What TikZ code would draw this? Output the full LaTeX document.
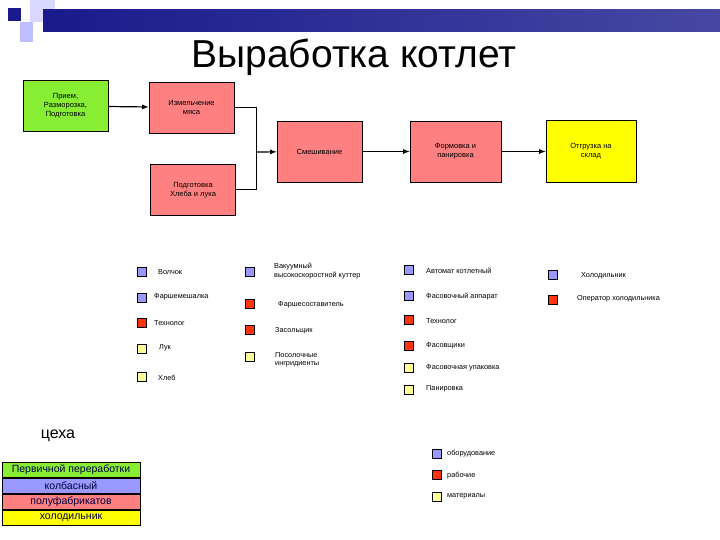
\documentclass[tikz,border=0pt]{standalone}
\usepackage{fontspec}
\setmainfont{Liberation Sans}
\begin{document}
\begin{tikzpicture}[x=1pt,y=-1pt,
  box/.style={draw=black,line width=0.8pt,minimum width=85pt,minimum height=51pt,align=center,font=\fontsize{7.5}{9}\selectfont,inner sep=2pt},
  sq/.style={draw=black,line width=0.5pt,minimum size=9pt,inner sep=0pt},
  eq/.style={sq,fill=eqc},
  wk/.style={sq,fill=wkc},
  mt/.style={sq,fill=mtc},
  lab/.style={anchor=west,font=\fontsize{7.3}{8.3}\selectfont,align=left,inner sep=1pt},
  arr/.style={line width=1.2pt,-latex},
  row/.style={draw=black,line width=0.8pt,minimum width=138pt,minimum height=15pt,inner sep=0pt,font=\fontsize{10.5}{11}\selectfont,text=black!75!blue}]
\definecolor{eqc}{HTML}{9999FF}
\definecolor{wkc}{HTML}{FF3311}
\definecolor{mtc}{HTML}{FFFF99}
\definecolor{grn}{HTML}{88EE33}
\definecolor{sal}{HTML}{FF8080}
\definecolor{yel}{HTML}{FFFF00}
\definecolor{navy}{HTML}{1A1A8C}
\useasboundingbox (0,0) rectangle (720,540);
% decoration
\fill[blue!15] (30,0) rectangle (55,22);
\fill[blue!25] (20,22) rectangle (33,42);
\fill[navy] (8,8) rectangle (21,21);
\shade[left color=navy,right color=navy!80] (43,10) rectangle (720,32);
\node (title) at (354,57) {\fontsize{39}{40}\selectfont Выработка котлет};
% flow
\node[box,fill=grn] (a) at (65.5,106) {Прием,\\Разморозка,\\Подготовка};
\node[box,fill=sal] (b) at (191.5,107.5) {Измельчение\\мяса};
\node[box,fill=sal] (c) at (193,190) {Подготовка\\Хлеба и лука};
\node[box,fill=sal,minimum height=61pt] (d) at (319.5,151.5) {Смешивание};
\node[box,fill=sal,minimum height=61pt,minimum width=91pt] (e) at (455.5,151.5) {Формовка и\\панировка};
\node[box,fill=yel,minimum height=62pt,minimum width=90pt] (f) at (591,151.5) {Отгрузка на\\склад};
\coordinate (j) at (256,152);
\draw[arr] (a) -- (b);
\draw[line width=1pt] (b.east) -| (j);
\draw[line width=1pt] (c.east) -| (j);
\draw[arr] (j) -- (d);
\draw[arr] (d) -- (e);
\draw[arr] (e) -- (f);
% column 1
\node[eq] (s1) at (142,272) {}; \node[lab] (t1) at (157,272) {Волчок};
\node[eq] (s2) at (142,298) {}; \node[lab] (t2) at (153,297) {Фаршемешалка};
\node[wk] (s3) at (142,323) {}; \node[lab] (t3) at (153,323) {Технолог};
\node[mt] (s4) at (142,349) {}; \node[lab] (t4) at (158,348) {Лук};
\node[mt] (s5) at (142,377) {}; \node[lab] (t5) at (157,378) {Хлеб};
% column 2
\node[eq] (u1) at (250,272) {}; \node[lab] (v1) at (273,271) {Вакуумный\\высокоскоростной куттер};
\node[wk] (u2) at (250,304) {}; \node[lab] (v2) at (277,305) {Фаршесоставитель};
\node[wk] (u3) at (250,330) {}; \node[lab] (v3) at (274,331) {Засольщик};
\node[mt] (u4) at (250,357) {}; \node[lab] (v4) at (274,360) {Посолочные\\ингридиенты};
% column 3
\node[eq] (w1) at (409,270) {}; \node[lab] (x1) at (425,271) {Автомат котлетный};
\node[eq] (w2) at (409,296) {}; \node[lab] (x2) at (425,297) {Фасовочный аппарат};
\node[wk] (w3) at (409,320) {}; \node[lab] (x3) at (425,321) {Технолог};
\node[wk] (w4) at (409,346) {}; \node[lab] (x4) at (425,346) {Фасовщики};
\node[mt] (w5) at (409,368) {}; \node[lab] (x5) at (425,368) {Фасовочная упаковка};
\node[mt] (w6) at (409,390) {}; \node[lab] (x6) at (425,389) {Панировка};
% column 4
\node[eq] (y1) at (553,275) {}; \node[lab] (z1) at (580,276) {Холодильник};
\node[wk] (y2) at (553,300) {}; \node[lab] (z2) at (576,299) {Оператор холодильника};
% cexa
\node (ceh) at (58,436) {\fontsize{16}{17}\selectfont цеха};
\node[row,fill=grn] (r1) at (71,470) {Первичной переработки};
\node[row,fill=eqc,anchor=north] (r2) at (r1.south) {колбасный};
\node[row,fill=sal,anchor=north] (r3) at (r2.south) {полуфабрикатов};
\node[row,fill=yel,anchor=north] (r4) at (r3.south) {холодильник};
% legend
\node[eq] (l1) at (437,454) {}; \node[lab] (m1) at (446,454) {оборудование};
\node[wk] (l2) at (437,475) {}; \node[lab] (m2) at (446,476) {рабочие};
\node[mt] (l3) at (437,497) {}; \node[lab] (m3) at (446,496) {материалы};
\end{tikzpicture}
\end{document}
